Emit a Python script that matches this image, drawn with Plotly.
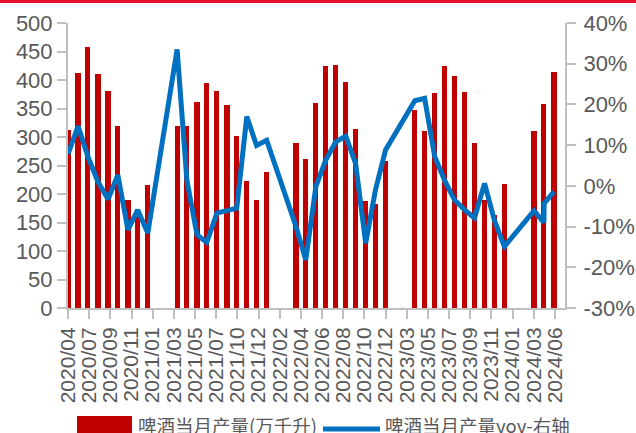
import pandas as pd
import plotly.graph_objects as go

# Monthly beer output (10k kilolitres) and YoY growth (%); Jan/Feb not reported separately
MONTHS = [
    "2020/04", "2020/05", "2020/06", "2020/07", "2020/08", "2020/09", "2020/10", "2020/11", "2020/12",
    "2021/03", "2021/04", "2021/05", "2021/06", "2021/07", "2021/08", "2021/09", "2021/10", "2021/11", "2021/12",
    "2022/03", "2022/04", "2022/05", "2022/06", "2022/07", "2022/08", "2022/09", "2022/10", "2022/11", "2022/12",
    "2023/03", "2023/04", "2023/05", "2023/06", "2023/07", "2023/08", "2023/09", "2023/10", "2023/11", "2023/12",
    "2024/03", "2024/04", "2024/05",
]
OUTPUT = [
    313, 412, 458, 410, 381, 319, 190, 173, 216,
    320, 319, 361, 394, 381, 357, 302, 222, 190, 239,
    289, 262, 360, 424, 426, 397, 314, 188, 183, 258,
    347, 310, 378, 424, 407, 379, 290, 190, 163, 218,
    311, 358, 414,
]
YOY = [
    7.8, 14.7, 7.2, 1.0, -3.3, 2.7, -10.8, -5.9, -11.6,
    33.5, 1.4, -12.0, -13.9, -6.7, -6.1, -5.5, 17.0, 9.9, 11.2,
    -10.0, -18.2, -0.2, 6.3, 10.8, 12.2, 5.5, -14.1, -1.0, 8.8,
    20.9, 21.5, 7.2, 1.4, -3.5, -5.9, -7.9, 0.6, -8.4, -14.9,
    -6.1, -9.0, -1.4,
]
# an additional YoY reading published at the start of May 2024
YOY_EXTRA_DATE = "2024-05-01"
YOY_EXTRA = -4.3

TICK_DATES = [
    "2020-04-30", "2020-07-04", "2020-09-07", "2020-11-11", "2021-01-15", "2021-03-21",
    "2021-05-25", "2021-07-29", "2021-10-02", "2021-12-06", "2022-02-09", "2022-04-15",
    "2022-06-19", "2022-08-23", "2022-10-27", "2022-12-31", "2023-03-06", "2023-05-10",
    "2023-07-14", "2023-09-17", "2023-11-21", "2024-01-25", "2024-03-30", "2024-06-03",
]
TICK_LABELS = [
    "2020/04", "2020/07", "2020/09", "2020/11", "2021/01", "2021/03",
    "2021/05", "2021/07", "2021/10", "2021/12", "2022/02", "2022/04",
    "2022/06", "2022/08", "2022/10", "2022/12", "2023/03", "2023/05",
    "2023/07", "2023/09", "2023/11", "2024/01", "2024/03", "2024/06",
]
LEFT_TICKS = list(range(0, 501, 50))
RIGHT_TICKS = [-30, -20, -10, 0, 10, 20, 30, 40]
RIGHT_TICK_LABELS = ["-30%", "-20%", "-10%", "0%", "10%", "20%", "30%", "40%"]

BAR_NAME = "啤酒当月产量(万千升)"
LINE_NAME = "啤酒当月产量yoy-右轴"

BAR_COLOR = "#C00000"
LINE_COLOR = "#0070C0"
AXIS_COLOR = "#BFBFBF"
TEXT_COLOR = "#595959"
FONT = "Liberation Sans, Arial, sans-serif"
CJK_FONT = "Noto Sans CJK SC, sans-serif"

# month-end dates for each observation
month_end = (pd.to_datetime([m + "/01" for m in MONTHS], format="%Y/%m/%d") + pd.offsets.MonthEnd(0))
bar_x = list(month_end)

line_df = pd.DataFrame({"x": bar_x, "y": YOY})
line_df = pd.concat([line_df, pd.DataFrame({"x": [pd.Timestamp(YOY_EXTRA_DATE)], "y": [YOY_EXTRA]})])
line_df = line_df.sort_values("x", kind="stable")

W, H = 636, 433
L, R, T, B = 68, 71, 23, 125
PW, PH = W - L - R, H - T - B


def xp(px):
    return (px - L) / PW


def yp(py):
    return (H - B - py) / PH


fig = go.Figure()
fig.add_trace(go.Bar(
    x=bar_x, y=OUTPUT, name=BAR_NAME, marker_color=BAR_COLOR, marker_line_width=0,
    width=16 * 86400000, yaxis="y", showlegend=False,
))
fig.add_trace(go.Scatter(
    x=line_df["x"], y=line_df["y"], name=LINE_NAME, mode="lines",
    line=dict(color=LINE_COLOR, width=5), yaxis="y2", showlegend=False,
))

fig.update_layout(
    width=W, height=H,
    margin=dict(l=L, r=R, t=T, b=B, pad=0, autoexpand=False),
    paper_bgcolor="white", plot_bgcolor="white",
    font=dict(family=FONT, color=TEXT_COLOR, size=22),
    xaxis=dict(
        type="date", range=["2020-04-30", "2024-07-04"], automargin=False,
        tickmode="array", tickvals=TICK_DATES, ticktext=TICK_LABELS, tickangle=-90,
        showline=True, linecolor=AXIS_COLOR, linewidth=2,
        ticks="outside", ticklen=9, tickwidth=2, tickcolor=AXIS_COLOR,
        showgrid=False, zeroline=False,
        tickfont=dict(family=FONT, size=21, color=TEXT_COLOR),
    ),
    yaxis=dict(
        range=[0, 500], tickmode="array", tickvals=LEFT_TICKS, automargin=False,
        showline=True, linecolor=AXIS_COLOR, linewidth=2,
        ticks="outside", ticklen=9, tickwidth=2, tickcolor=AXIS_COLOR,
        showgrid=False, zeroline=False,
        tickfont=dict(family=FONT, size=22, color=TEXT_COLOR),
    ),
    yaxis2=dict(
        range=[-30, 40], tickmode="array", tickvals=RIGHT_TICKS, ticktext=RIGHT_TICK_LABELS,
        overlaying="y", side="right", automargin=False,
        showline=True, linecolor=AXIS_COLOR, linewidth=2,
        ticks="outside", ticklen=9, tickwidth=2, tickcolor=AXIS_COLOR,
        ticklabelstandoff=3,
        showgrid=False, zeroline=False,
        tickfont=dict(family=FONT, size=22, color=TEXT_COLOR),
    ),
    bargap=0,
)

# red rule across the top of the page
fig.add_shape(type="rect", xref="paper", yref="paper",
              x0=xp(0), x1=xp(W), y0=yp(3), y1=yp(-2),
              fillcolor="#E8112D", line_width=0, layer="above")

# legend row along the bottom edge
fig.add_shape(type="rect", xref="paper", yref="paper",
              x0=xp(77), x1=xp(132), y0=yp(446), y1=yp(416),
              fillcolor=BAR_COLOR, line_width=0)
fig.add_shape(type="line", xref="paper", yref="paper",
              x0=xp(323), x1=xp(380), y0=yp(429), y1=yp(429),
              line=dict(color=LINE_COLOR, width=5))
fig.add_annotation(text=BAR_NAME, xref="paper", yref="paper", x=xp(136), y=yp(425),
                   xanchor="left", yanchor="middle", showarrow=False,
                   font=dict(family=CJK_FONT, size=18.5, color=TEXT_COLOR))
fig.add_annotation(text=LINE_NAME, xref="paper", yref="paper", x=xp(383), y=yp(425),
                   xanchor="left", yanchor="middle", showarrow=False,
                   font=dict(family=CJK_FONT, size=18.5, color=TEXT_COLOR))

fig.write_html("out.html")
